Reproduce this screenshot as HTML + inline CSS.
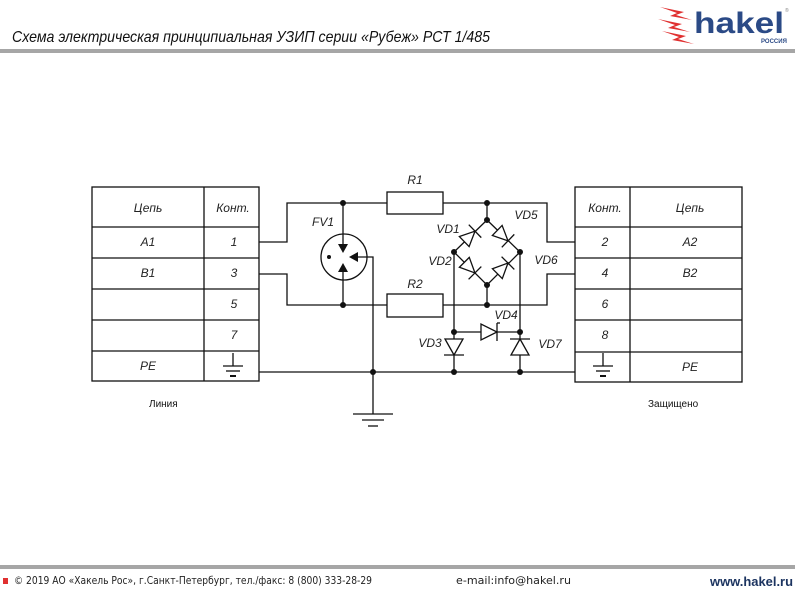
<!DOCTYPE html>
<html><head><meta charset="utf-8"><style>
html,body{margin:0;padding:0;background:#fff;width:800px;height:600px;overflow:hidden}
svg{display:block}
.t{font-family:"Liberation Sans","DejaVu Sans",sans-serif;font-style:italic;fill:#222;font-size:12px}
</style></head><body>
<svg width="800" height="600" viewBox="0 0 800 600" xmlns="http://www.w3.org/2000/svg">
<text x="12" y="42" font-family="'Liberation Sans',sans-serif" font-style="italic" font-size="16" fill="#111" textLength="478" lengthAdjust="spacingAndGlyphs">Схема электрическая принципиальная УЗИП серии «Рубеж» РСТ 1/485</text>
<rect x="0" y="49" width="795" height="4" fill="#a6a6a6"/>
<g fill="#e03030">
<polygon points="660,7 684,12 676,15 692,20 670,16 677,13"/>
<polygon points="658,19 682,24 674,27 690,32 668,28 675,25"/>
<polygon points="662,31 686,36 678,39 694,44 672,40 679,37"/>
</g>
<text x="694" y="33" font-family="'Liberation Sans',sans-serif" font-weight="bold" font-size="30" fill="#2b4a86" textLength="90" lengthAdjust="spacingAndGlyphs">hakel</text>
<text x="761" y="43" font-family="'Liberation Sans',sans-serif" font-weight="bold" font-size="6" fill="#2b4a86">РОССИЯ</text>
<text x="785" y="12" font-size="5" fill="#888" font-family="'Liberation Sans',sans-serif">®</text>

<g stroke="#111" stroke-width="1.3" fill="none">
<rect x="92" y="187" width="167" height="194"/>
<line x1="204" y1="187" x2="204" y2="381"/>
<line x1="92" y1="227" x2="259" y2="227"/>
<line x1="92" y1="258" x2="259" y2="258"/>
<line x1="92" y1="289" x2="259" y2="289"/>
<line x1="92" y1="320" x2="259" y2="320"/>
<line x1="92" y1="351" x2="259" y2="351"/>
<rect x="575" y="187" width="167" height="195"/>
<line x1="630" y1="187" x2="630" y2="382"/>
<line x1="575" y1="227" x2="742" y2="227"/>
<line x1="575" y1="258" x2="742" y2="258"/>
<line x1="575" y1="289" x2="742" y2="289"/>
<line x1="575" y1="320" x2="742" y2="320"/>
<line x1="575" y1="352" x2="742" y2="352"/>
<line x1="233" y1="353" x2="233" y2="366"/><line x1="223" y1="366" x2="243" y2="366"/><line x1="226" y1="371" x2="240" y2="371"/><line x1="230" y1="376" x2="236" y2="376" stroke-width="2"/>
<line x1="603" y1="353" x2="603" y2="366"/><line x1="593" y1="366" x2="613" y2="366"/><line x1="596" y1="371" x2="610" y2="371"/><line x1="600" y1="376" x2="606" y2="376" stroke-width="2"/>

<polyline points="259,242 287,242 287,203 387,203"/>
<polyline points="443,203 547,203 547,242 575,242"/>
<polyline points="259,274 287,274 287,305 387,305"/>
<polyline points="443,305 547,305 547,274 575,274"/>
<line x1="259" y1="372" x2="575" y2="372"/>
<rect x="387" y="192" width="56" height="22"/>
<rect x="387" y="294" width="56" height="23"/>
<circle cx="344" cy="257" r="23"/>
<line x1="343" y1="203" x2="343" y2="246"/>
<line x1="343" y1="268" x2="343" y2="305"/>
<polyline points="373,372 373,257 355,257"/>
<line x1="487" y1="203" x2="487" y2="220"/>
<line x1="487" y1="285" x2="487" y2="305"/>
<polyline points="487,220 454,252 487,285 520,252 487,220"/>
<line x1="454" y1="252" x2="454" y2="372"/>
<line x1="520" y1="252" x2="520" y2="372"/>
<line x1="454" y1="332" x2="520" y2="332"/>
<line x1="373" y1="372" x2="373" y2="414"/>
<line x1="353" y1="414" x2="393" y2="414"/>
<line x1="362" y1="420" x2="384" y2="420"/>
<line x1="368" y1="426" x2="378" y2="426"/>
</g>
<g fill="#111">
<polygon points="338,244 348,244 343,253"/>
<polygon points="338,272 348,272 343,263"/>
<polygon points="358,252 358,262 349,257"/>
<circle cx="329" cy="257" r="2"/>
</g>
<g stroke="#111" stroke-width="1.3" fill="#fff">
<g transform="translate(470,236) rotate(-44)"><polygon points="-8,-7 -8,7 7,0"/><line x1="7" y1="-9" x2="7" y2="9"/></g>
<g transform="translate(503,236) rotate(44)"><polygon points="-8,-7 -8,7 7,0"/><line x1="7" y1="-9" x2="7" y2="9"/></g>
<g transform="translate(470,268) rotate(45)"><polygon points="-8,-7 -8,7 7,0"/><line x1="7" y1="-9" x2="7" y2="9"/></g>
<g transform="translate(503,268) rotate(-45)"><polygon points="-8,-7 -8,7 7,0"/><line x1="7" y1="-9" x2="7" y2="9"/></g>
<g transform="translate(489,332)"><polygon points="-8,-8 -8,8 8,0"/><line x1="8" y1="-9" x2="8" y2="9"/><line x1="8" y1="-9" x2="11" y2="-9"/></g>
<g transform="translate(454,347) rotate(90)"><polygon points="-8,-9 -8,9 8,0"/><line x1="8" y1="-10" x2="8" y2="10"/></g>
<g transform="translate(520,347) rotate(-90)"><polygon points="-8,-9 -8,9 8,0"/><line x1="8" y1="-10" x2="8" y2="10"/></g>
</g>
<g fill="#111">
<circle cx="343" cy="203" r="3"/><circle cx="343" cy="305" r="3"/>
<circle cx="487" cy="203" r="3"/><circle cx="487" cy="305" r="3"/>
<circle cx="487" cy="220" r="3"/><circle cx="487" cy="285" r="3"/>
<circle cx="454" cy="252" r="3"/><circle cx="520" cy="252" r="3"/>
<circle cx="454" cy="332" r="3"/><circle cx="520" cy="332" r="3"/>
<circle cx="373" cy="372" r="3"/><circle cx="454" cy="372" r="3"/><circle cx="520" cy="372" r="3"/>
</g>
<g class="t">
<text x="415" y="184" text-anchor="middle">R1</text>
<text x="415" y="288" text-anchor="middle">R2</text>
<text x="323" y="226" text-anchor="middle">FV1</text>
<text x="448" y="233" text-anchor="middle">VD1</text>
<text x="526" y="219" text-anchor="middle">VD5</text>
<text x="440" y="265" text-anchor="middle">VD2</text>
<text x="546" y="264" text-anchor="middle">VD6</text>
<text x="506" y="319" text-anchor="middle">VD4</text>
<text x="430" y="347" text-anchor="middle">VD3</text>
<text x="550" y="348" text-anchor="middle">VD7</text>
<text x="148" y="212" text-anchor="middle">Цепь</text>
<text x="233" y="212" text-anchor="middle">Конт.</text>
<text x="148" y="246" text-anchor="middle">A1</text><text x="234" y="246" text-anchor="middle">1</text>
<text x="148" y="277" text-anchor="middle">B1</text><text x="234" y="277" text-anchor="middle">3</text>
<text x="234" y="308" text-anchor="middle">5</text>
<text x="234" y="339" text-anchor="middle">7</text>
<text x="148" y="370" text-anchor="middle">PE</text>
<text x="605" y="212" text-anchor="middle">Конт.</text>
<text x="690" y="212" text-anchor="middle">Цепь</text>
<text x="605" y="246" text-anchor="middle">2</text><text x="690" y="246" text-anchor="middle">A2</text>
<text x="605" y="277" text-anchor="middle">4</text><text x="690" y="277" text-anchor="middle">B2</text>
<text x="605" y="308" text-anchor="middle">6</text>
<text x="605" y="339" text-anchor="middle">8</text>
<text x="690" y="371" text-anchor="middle">PE</text>
</g>
<g font-family="'Liberation Sans',sans-serif" font-size="10" fill="#111">
<text x="149" y="407">Линия</text>
<text x="648" y="407">Защищено</text>
</g>
<rect x="0" y="565" width="795" height="4" fill="#a6a6a6"/>
<rect x="3" y="578" width="5" height="6" fill="#e03030"/>
<text x="14" y="584" font-family="'DejaVu Sans','Liberation Sans',sans-serif" font-size="10.5" fill="#222" textLength="358" lengthAdjust="spacingAndGlyphs">© 2019 АО «Хакель Рос», г.Санкт-Петербург, тел./факс: 8 (800) 333-28-29</text>
<text x="456" y="584" font-family="'DejaVu Sans','Liberation Sans',sans-serif" font-size="10.5" fill="#222" textLength="115" lengthAdjust="spacingAndGlyphs">e-mail:info@hakel.ru</text>
<text x="710" y="586" font-family="'Liberation Sans',sans-serif" font-weight="bold" font-size="13" fill="#1c3460" textLength="83" lengthAdjust="spacingAndGlyphs">www.hakel.ru</text>
</svg>
</body></html>
